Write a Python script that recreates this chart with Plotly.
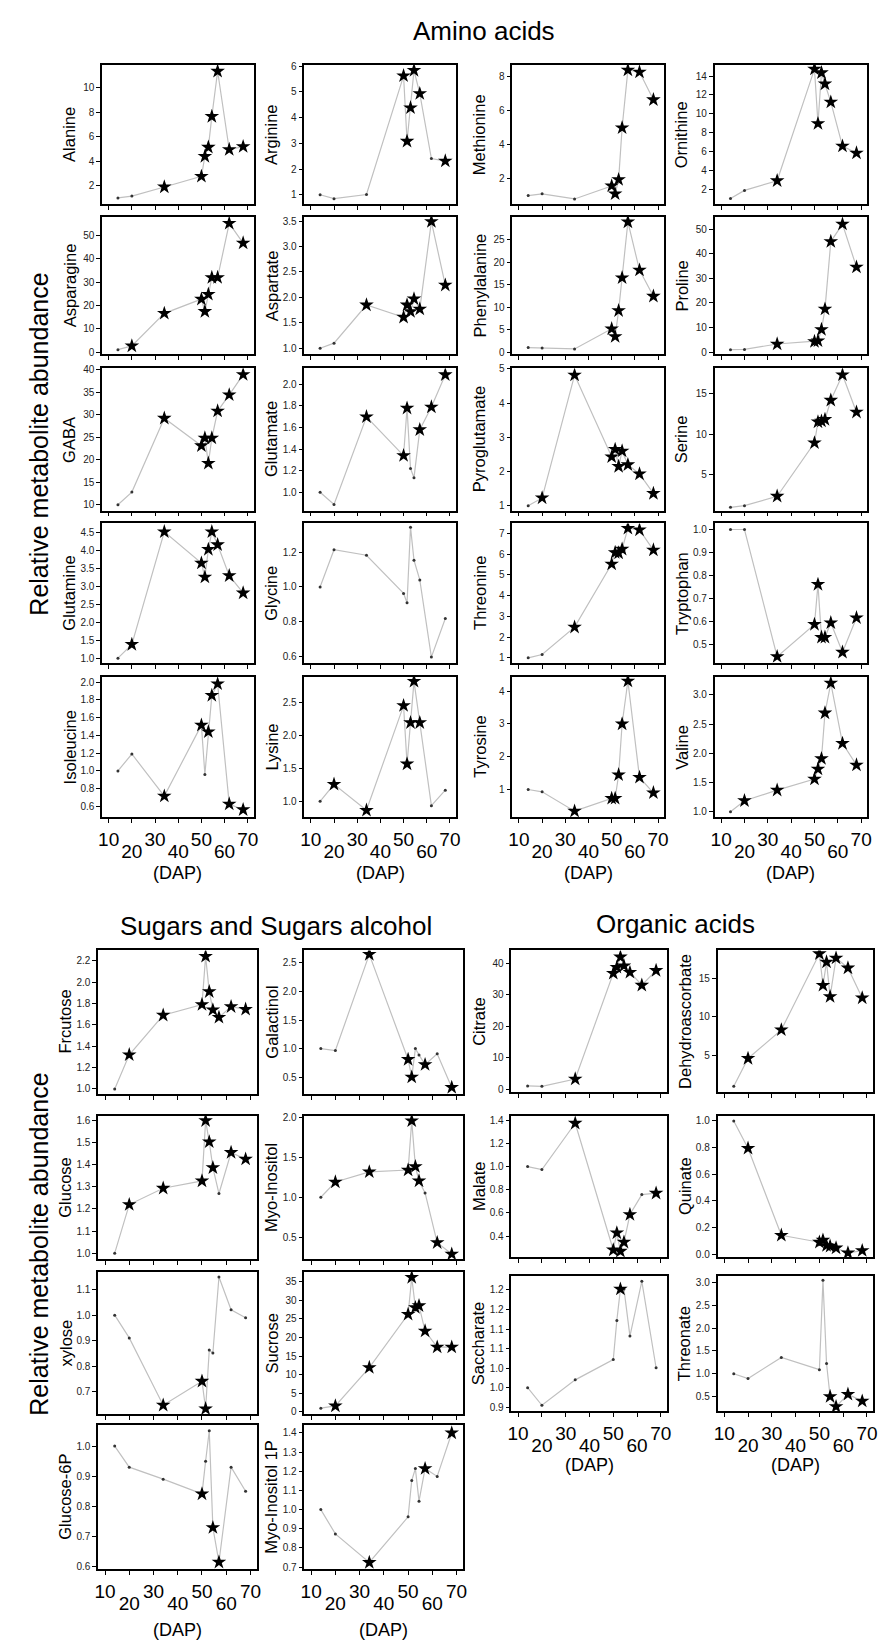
import plotly.graph_objects as go

W, H = 887, 1640

# Days after pollination (x values shared by all panels)
DAP = [14, 20, 34, 50, 51.5, 53, 54.5, 57, 62, 68]
x_ticks = [10, 20, 30, 40, 50, 60, 70]

# ---------------- Amino acids ----------------
alanine = [1.0, 1.15, 1.9, 2.77, 4.4, 5.15, 7.67, 11.37, 4.96, 5.2]
alanine_sig = [0, 0, 1, 1, 1, 1, 1, 1, 1, 1]
alanine_ticks = [2, 4, 6, 8, 10]

arginine = [1.0, 0.85, 1.01, 5.62, 3.08, 4.38, 5.83, 4.93, 2.41, 2.31]
arginine_sig = [0, 0, 0, 1, 1, 1, 1, 1, 0, 1]
arginine_ticks = [1, 2, 3, 4, 5, 6]

methionine = [1.0, 1.1, 0.8, 1.57, 1.1, 1.94, 4.99, 8.39, 8.27, 6.64]
methionine_sig = [0, 0, 0, 1, 1, 1, 1, 1, 1, 1]
methionine_ticks = [2, 4, 6, 8]

ornithine = [1.0, 1.85, 2.88, 14.74, 8.95, 14.35, 13.16, 11.23, 6.56, 5.82]
ornithine_sig = [0, 0, 1, 1, 1, 1, 1, 1, 1, 1]
ornithine_ticks = [2, 4, 6, 8, 10, 12, 14]

asparagine = [1.0, 2.6, 16.6, 22.7, 17.4, 24.8, 32.0, 32.0, 55.3, 46.8]
asparagine_sig = [0, 1, 1, 1, 1, 1, 1, 1, 1, 1]
asparagine_ticks = [0, 10, 20, 30, 40, 50]

aspartate = [1.0, 1.1, 1.85, 1.61, 1.85, 1.72, 1.97, 1.77, 3.49, 2.24]
aspartate_sig = [0, 0, 1, 1, 1, 1, 1, 1, 1, 1]
aspartate_ticks = [1.0, 1.5, 2.0, 2.5, 3.0, 3.5]

phenylalanine = [1.0, 0.9, 0.7, 5.17, 3.45, 9.2, 16.5, 28.9, 18.2, 12.4]
phenylalanine_sig = [0, 0, 0, 1, 1, 1, 1, 1, 1, 1]
phenylalanine_ticks = [0, 5, 10, 15, 20, 25]

proline = [1.0, 1.1, 3.3, 4.3, 4.6, 9.2, 17.5, 45.0, 52.1, 34.6]
proline_sig = [0, 0, 1, 1, 1, 1, 1, 1, 1, 1]
proline_ticks = [0, 10, 20, 30, 40, 50]

gaba = [10.0, 12.8, 29.2, 23.1, 24.8, 19.2, 24.8, 30.8, 34.4, 38.9]
gaba_sig = [0, 0, 1, 1, 1, 1, 1, 1, 1, 1]
gaba_ticks = [10, 15, 20, 25, 30, 35, 40]

glutamate = [1.0, 0.887, 1.70, 1.34, 1.78, 1.22, 1.135, 1.58, 1.79, 2.09]
glutamate_sig = [0, 0, 1, 1, 1, 0, 0, 1, 1, 1]
glutamate_ticks = [1.0, 1.2, 1.4, 1.6, 1.8, 2.0]

pyroglutamate = [1.0, 1.23, 4.82, 2.43, 2.65, 2.15, 2.6, 2.2, 1.93, 1.36]
pyroglutamate_sig = [0, 1, 1, 1, 1, 1, 1, 1, 1, 1]
pyroglutamate_ticks = [1, 2, 3, 4, 5]

serine = [1.0, 1.2, 2.36, 8.93, 11.5, 11.6, 11.8, 14.17, 17.3, 12.7]
serine_sig = [0, 0, 1, 1, 1, 1, 1, 1, 1, 1]
serine_ticks = [5, 10, 15]

glutamine = [1.0, 1.38, 4.51, 3.64, 3.25, 4.02, 4.51, 4.15, 3.29, 2.81]
glutamine_sig = [0, 1, 1, 1, 1, 1, 1, 1, 1, 1]
glutamine_ticks = [1.0, 1.5, 2.0, 2.5, 3.0, 3.5, 4.0, 4.5]

glycine = [1.0, 1.215, 1.183, 0.963, 0.909, 1.345, 1.154, 1.041, 0.596, 0.818]
glycine_sig = [0, 0, 0, 0, 0, 0, 0, 0, 0, 0]
glycine_ticks = [0.6, 0.8, 1.0, 1.2]

threonine = [1.0, 1.16, 2.48, 5.52, 6.08, 6.06, 6.24, 7.25, 7.17, 6.2]
threonine_sig = [0, 0, 1, 1, 1, 1, 1, 1, 1, 1]
threonine_ticks = [1, 2, 3, 4, 5, 6, 7]

tryptophan = [1.0, 1.0, 0.447, 0.587, 0.761, 0.531, 0.531, 0.594, 0.466, 0.616]
tryptophan_sig = [0, 0, 1, 1, 1, 1, 1, 1, 1, 1]
tryptophan_ticks = [0.5, 0.6, 0.7, 0.8, 0.9, 1.0]

isoleucine = [1.0, 1.19, 0.716, 1.515, 0.96, 1.44, 1.85, 1.98, 0.627, 0.563]
isoleucine_sig = [0, 0, 1, 1, 0, 1, 1, 1, 1, 1]
isoleucine_ticks = [0.6, 0.8, 1.0, 1.2, 1.4, 1.6, 1.8, 2.0]

lysine = [1.0, 1.26, 0.863, 2.46, 1.57, 2.2, 2.83, 2.2, 0.934, 1.17]
lysine_sig = [0, 1, 1, 1, 1, 1, 1, 1, 0, 0]
lysine_ticks = [1.0, 1.5, 2.0, 2.5]

tyrosine = [1.0, 0.93, 0.34, 0.73, 0.73, 1.45, 3.0, 4.31, 1.37, 0.9]
tyrosine_sig = [0, 0, 1, 1, 1, 1, 1, 1, 1, 1]
tyrosine_ticks = [1, 2, 3, 4]

valine = [1.0, 1.19, 1.37, 1.56, 1.73, 1.91, 2.69, 3.2, 2.17, 1.8]
valine_sig = [0, 1, 1, 1, 1, 1, 1, 1, 1, 1]
valine_ticks = [1.0, 1.5, 2.0, 2.5, 3.0]

# ---------------- Sugars and sugar alcohols ----------------
fructose = [1.0, 1.32, 1.69, 1.79, 2.24, 1.91, 1.74, 1.67, 1.77, 1.745]
fructose_sig = [0, 1, 1, 1, 1, 1, 1, 1, 1, 1]
fructose_ticks = [1.0, 1.2, 1.4, 1.6, 1.8, 2.0, 2.2]

galactinol = [1.0, 0.966, 2.65, 0.81, 0.5, 1.0, 0.89, 0.72, 0.91, 0.32]
galactinol_sig = [0, 0, 1, 1, 1, 0, 0, 1, 0, 1]
galactinol_ticks = [0.5, 1.0, 1.5, 2.0, 2.5]

glucose = [1.0, 1.22, 1.294, 1.327, 1.6, 1.504, 1.387, 1.27, 1.456, 1.426]
glucose_sig = [0, 1, 1, 1, 1, 1, 1, 0, 1, 1]
glucose_ticks = [1.0, 1.1, 1.2, 1.3, 1.4, 1.5, 1.6]

myoinositol = [1.0, 1.19, 1.317, 1.34, 1.954, 1.383, 1.204, 1.054, 0.433, 0.29]
myoinositol_sig = [0, 1, 1, 1, 1, 1, 1, 0, 1, 1]
myoinositol_ticks = [0.5, 1.0, 1.5, 2.0]

xylose = [1.0, 0.911, 0.647, 0.741, 0.633, 0.863, 0.852, 1.15, 1.021, 0.99]
xylose_sig = [0, 0, 1, 1, 1, 0, 0, 0, 0, 0]
xylose_ticks = [0.7, 0.8, 0.9, 1.0, 1.1]

sucrose = [1.0, 1.6, 11.9, 26.2, 36.1, 28.0, 28.5, 21.7, 17.4, 17.4]
sucrose_sig = [0, 1, 1, 1, 1, 1, 1, 1, 1, 1]
sucrose_ticks = [0, 5, 10, 15, 20, 25, 30, 35]

glucose6p = [1.0, 0.93, 0.89, 0.841, 0.95, 1.051, 0.729, 0.614, 0.93, 0.85]
glucose6p_sig = [0, 0, 0, 1, 0, 0, 1, 1, 0, 0]
glucose6p_ticks = [0.6, 0.7, 0.8, 0.9, 1.0]

myoinositol1p = [1.0, 0.873, 0.724, 0.962, 1.152, 1.214, 1.044, 1.214, 1.173, 1.4]
myoinositol1p_sig = [0, 0, 1, 0, 0, 0, 0, 1, 0, 1]
myoinositol1p_ticks = [0.7, 0.8, 0.9, 1.0, 1.1, 1.2, 1.3, 1.4]

# ---------------- Organic acids ----------------
citrate = [1.0, 0.85, 3.18, 36.9, 38.8, 42.1, 39.3, 37.2, 33.1, 37.8]
citrate_sig = [0, 0, 1, 1, 1, 1, 1, 1, 1, 1]
citrate_ticks = [0, 10, 20, 30, 40]

dehydroascorbate = [1.0, 4.61, 8.32, 18.19, 14.09, 17.11, 12.63, 17.63, 16.34, 12.46]
dehydroascorbate_sig = [0, 1, 1, 1, 1, 1, 1, 1, 1, 1]
dehydroascorbate_ticks = [5, 10, 15]

malate = [1.0, 0.974, 1.374, 0.28, 0.427, 0.269, 0.347, 0.586, 0.758, 0.77]
malate_sig = [0, 0, 1, 1, 1, 1, 1, 1, 0, 1]
malate_ticks = [0.4, 0.6, 0.8, 1.0, 1.2, 1.4]

quinate = [1.0, 0.795, 0.142, 0.09, 0.105, 0.065, 0.06, 0.047, 0.01, 0.027]
quinate_sig = [0, 1, 1, 1, 1, 1, 1, 1, 1, 1]
quinate_ticks = [0.0, 0.2, 0.4, 0.6, 0.8, 1.0]

saccharate = [1.0, 0.955, 1.02, 1.072, 1.172, 1.252, 1.252, 1.132, 1.272, 1.051]
saccharate_sig = [0, 0, 0, 0, 0, 1, 0, 0, 0, 0]
saccharate_ticks = [0.95, 1.0, 1.05, 1.1, 1.15, 1.2, 1.25]
saccharate_ticktext = ["0.9", "1.0", "1.0", "1.1", "1.1", "1.2", "1.2"]

threonate = [1.0, 0.897, 1.358, 1.09, 3.05, 1.227, 0.5, 0.28, 0.55, 0.4]
threonate_sig = [0, 0, 0, 0, 0, 0, 1, 1, 1, 1]
threonate_ticks = [0.5, 1.0, 1.5, 2.0, 2.5, 3.0]

FONT = "Liberation Sans, Arial, sans-serif"

am_cols = [(91, 244), (295, 448), (505, 658), (709, 863)]
am_rows = [(52, 192), (205, 343), (357, 500), (513, 653), (667, 808)]
amino = [
    [("Alanine", alanine, alanine_sig, alanine_ticks, [0.5, 11.9]),
     ("Arginine", arginine, arginine_sig, arginine_ticks, [0.64, 6.05]),
     ("Methionine", methionine, methionine_sig, methionine_ticks, [0.5, 8.7]),
     ("Ornithine", ornithine, ornithine_sig, ornithine_ticks, [0.4, 15.2])],
    [("Asparagine", asparagine, asparagine_sig, asparagine_ticks, [-1, 58]),
     ("Aspartate", aspartate, aspartate_sig, aspartate_ticks, [0.88, 3.58]),
     ("Phenylalanine", phenylalanine, phenylalanine_sig, phenylalanine_ticks, [-0.5, 30]),
     ("Proline", proline, proline_sig, proline_ticks, [-0.9, 55])],
    [("GABA", gaba, gaba_sig, gaba_ticks, [8.7, 40.3]),
     ("Glutamate", glutamate, glutamate_sig, glutamate_ticks, [0.83, 2.15]),
     ("Pyroglutamate", pyroglutamate, pyroglutamate_sig, pyroglutamate_ticks, [0.86, 5.02]),
     ("Serine", serine, serine_sig, serine_ticks, [0.6, 18.1])],
    [("Glutamine", glutamine, glutamine_sig, glutamine_ticks, [0.87, 4.74]),
     ("Glycine", glycine, glycine_sig, glycine_ticks, [0.563, 1.366]),
     ("Threonine", threonine, threonine_sig, threonine_ticks, [0.76, 7.48]),
     ("Tryptophan", tryptophan, tryptophan_sig, tryptophan_ticks, [0.42, 1.026])],
    [("Isoleucine", isoleucine, isoleucine_sig, isoleucine_ticks, [0.48, 2.06]),
     ("Lysine", lysine, lysine_sig, lysine_ticks, [0.76, 2.9]),
     ("Tyrosine", tyrosine, tyrosine_sig, tyrosine_ticks, [0.16, 4.44]),
     ("Valine", valine, valine_sig, valine_ticks, [0.91, 3.31])],
]

su_cols = [(87, 247), (295, 455)]
su_rows = [(942, 1086), (1108, 1252), (1265, 1408), (1419, 1564)]
sugars = [
    [("Frcutose", fructose, fructose_sig, fructose_ticks, [0.956, 2.296]),
     ("Galactinol", galactinol, galactinol_sig, galactinol_ticks, [0.21, 2.72])],
    [("Glucose", glucose, glucose_sig, glucose_ticks, [0.974, 1.623]),
     ("Myo-Inositol", myoinositol, myoinositol_sig, myoinositol_ticks, [0.23, 2.02])],
    [("xylose", xylose, xylose_sig, xylose_ticks, [0.612, 1.17]),
     ("Sucrose", sucrose, sucrose_sig, sucrose_ticks, [-0.6, 37.6])],
    [("Glucose-6P", glucose6p, glucose6p_sig, glucose6p_ticks, [0.59, 1.07]),
     ("Myo-Inositol 1P", myoinositol1p, myoinositol1p_sig, myoinositol1p_ticks, [0.688, 1.441])],
]

oa_cols = [(504, 661), (712, 869)]
oa_rows = [(942, 1084), (1108, 1250), (1269, 1405)]
organic = [
    [("Citrate", citrate, citrate_sig, citrate_ticks, [-0.85, 44.2]),
     ("Dehydroascorbate", dehydroascorbate, dehydroascorbate_sig, dehydroascorbate_ticks, [0.3, 18.62])],
    [("Malate", malate, malate_sig, malate_ticks, [0.22, 1.44]),
     ("Quinate", quinate, quinate_sig, quinate_ticks, [-0.02, 1.04])],
    [("Saccharate", saccharate, saccharate_sig, saccharate_ticks, [0.94, 1.286]),
     ("Threonate", threonate, threonate_sig, threonate_ticks, [0.18, 3.15])],
]

panels = []
for grid, cols, rows in [(amino, am_cols, am_rows), (sugars, su_cols, su_rows), (organic, oa_cols, oa_rows)]:
    for r, row in enumerate(grid):
        for c, spec in enumerate(row):
            panels.append((spec, cols[c] + rows[r], r == len(grid) - 1))

DAP_LABEL_Y = {808: 864, 1564: 1625, 1405: 1459}

fig = go.Figure()
layout = dict(
    width=W, height=H, margin=dict(l=0, r=0, t=0, b=0),
    paper_bgcolor="white", plot_bgcolor="white", showlegend=False,
    font=dict(family=FONT, color="black"),
)
annotations = []
XR = [7.2, 72.6]
extra = len(panels)
for i, (spec, box, bottom) in enumerate(panels, start=1):
    label, vals, sig, ticks, yr = spec
    x0, x1, y0, y1 = box
    xa, ya = f"x{i}", f"y{i}"
    fig.add_trace(go.Scatter(x=DAP, y=vals, mode="lines", xaxis=xa, yaxis=ya,
                             line=dict(color="#c0c0c0", width=1.2), hoverinfo="skip"))
    fig.add_trace(go.Scatter(x=[d for d, s in zip(DAP, sig) if not s],
                             y=[v for v, s in zip(vals, sig) if not s],
                             mode="markers", xaxis=xa, yaxis=ya,
                             marker=dict(symbol="circle", size=3, color="#333333")))
    fig.add_trace(go.Scatter(x=[d for d, s in zip(DAP, sig) if s],
                             y=[v for v, s in zip(vals, sig) if s],
                             mode="markers", xaxis=xa, yaxis=ya,
                             marker=dict(symbol="star", size=11, color="black", line=dict(width=0))))
    frame = dict(showline=True, mirror=True, linecolor="black", linewidth=1.6,
                 ticks="outside", ticklen=4, tickwidth=1.2, tickcolor="black",
                 showgrid=False, zeroline=False)
    layout[f"xaxis{i}"] = dict(domain=[x0 / W, x1 / W], anchor=ya, range=XR,
                               tickvals=x_ticks,
                               ticktext=[str(t) if (t // 10) % 2 == 1 else "" for t in x_ticks],
                               showticklabels=bottom,
                               tickfont=dict(size=19, color="black"), **frame)
    if label == "Saccharate":
        ytk = dict(tickvals=ticks, ticktext=saccharate_ticktext)
    else:
        fmt = ".1f" if any(float(t) != int(t) for t in ticks) else "d"
        ytk = dict(tickvals=ticks, tickformat=fmt)
    layout[f"yaxis{i}"] = dict(domain=[1 - y1 / H, 1 - y0 / H], anchor=xa, range=yr,
                               tickfont=dict(size=10, color="#222222"), **ytk, **frame)
    annotations.append(dict(text=label, x=(x0 - 33) / W, y=1 - (y0 + y1) / 2 / H,
                            xref="paper", yref="paper", textangle=-90, showarrow=False,
                            xanchor="center", yanchor="middle", font=dict(size=16.5)))
    if bottom:
        # second, staggered row of x tick labels (20, 40, 60) on a helper axis in a thin strip below
        extra += 1
        xe, ye = f"x{extra}", f"y{extra}"
        fig.add_trace(go.Scatter(x=[], y=[], xaxis=xe, yaxis=ye, mode="markers"))
        layout[f"yaxis{extra}"] = dict(domain=[1 - (y1 + 21) / H, 1 - (y1 + 20) / H],
                                       anchor=xe, range=[0, 1], visible=False)
        layout[f"xaxis{extra}"] = dict(domain=[x0 / W, x1 / W], anchor=ye, range=XR,
                                       tickvals=x_ticks,
                                       ticktext=[str(t) if (t // 10) % 2 == 0 else "" for t in x_ticks],
                                       ticks="", showline=False, showgrid=False, zeroline=False,
                                       tickfont=dict(size=19, color="black"))
        annotations.append(dict(text="(DAP)", x=(x0 + x1) / 2 / W, y=1 - DAP_LABEL_Y[y1] / H,
                                xref="paper", yref="paper", showarrow=False,
                                xanchor="center", yanchor="middle", font=dict(size=18)))

titles = [("Amino acids", 476, 18), ("Sugars and Sugars alcohol", 266, 917), ("Organic acids", 670, 915)]
for t, tx, ty in titles:
    annotations.append(dict(text=t, x=tx / W, y=1 - ty / H, xref="paper", yref="paper",
                            showarrow=False, xanchor="center", yanchor="middle", font=dict(size=26)))
for cy in (433, 1237):
    annotations.append(dict(text="Relative metabolite abundance", x=27 / W, y=1 - cy / H,
                            xref="paper", yref="paper", textangle=-90, showarrow=False,
                            xanchor="center", yanchor="middle", font=dict(size=25)))

layout["annotations"] = annotations
fig.update_layout(**layout)
fig.write_html("out.html")
